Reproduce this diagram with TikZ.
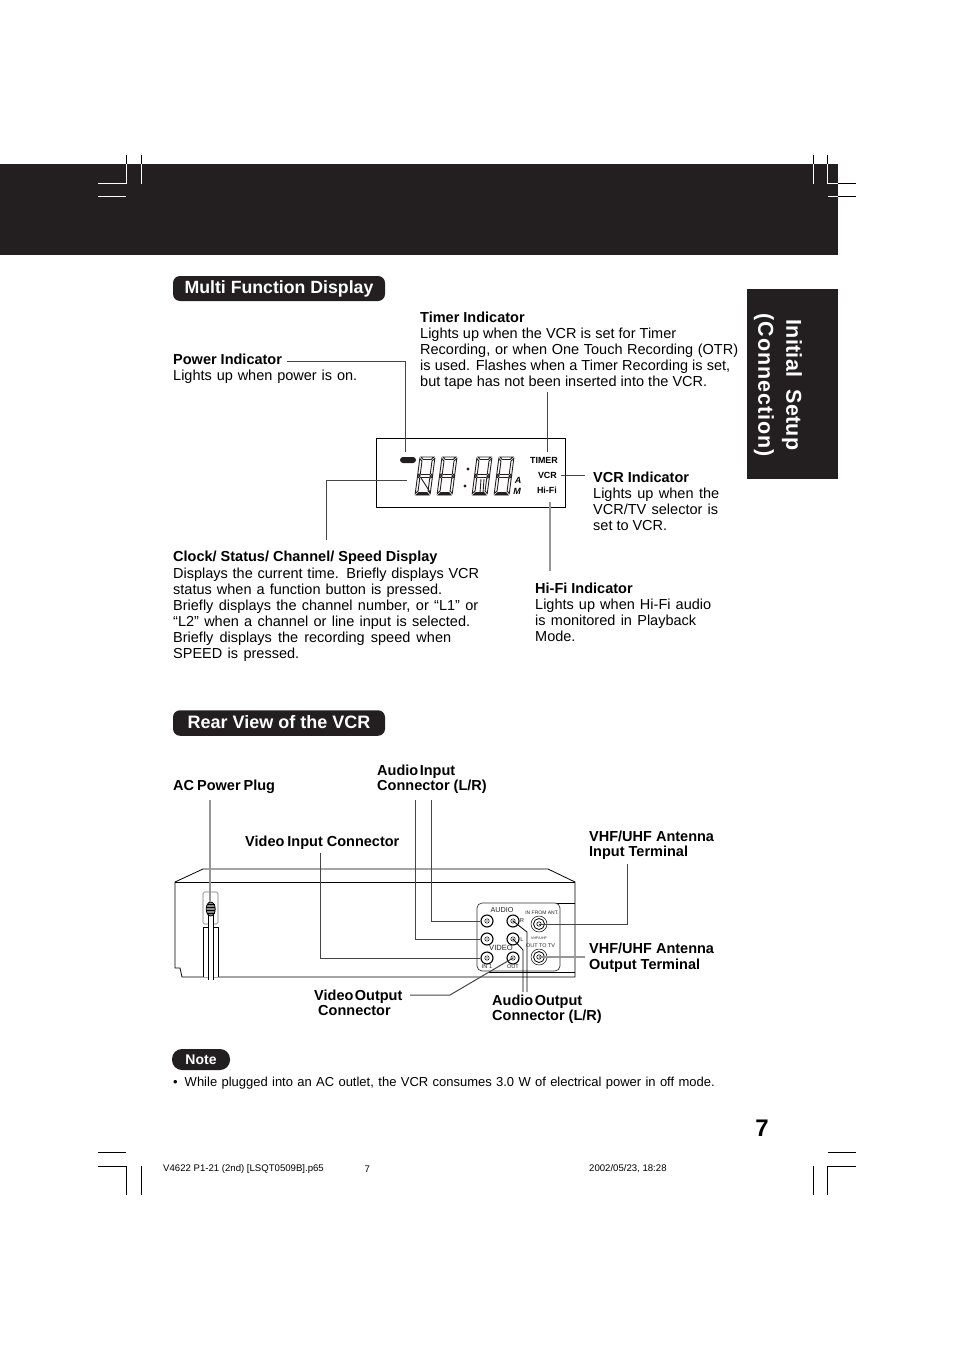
\documentclass[tikz,border=0pt]{standalone}
\usepackage{fontspec}
\setmainfont{Liberation Sans}
\usetikzlibrary{positioning,calc,shapes.geometric}
\definecolor{inkC}{RGB}{35,31,32}
\definecolor{leadC}{RGB}{70,70,70}
\definecolor{paleC}{RGB}{150,150,150}

% line stretched to the width it has on the page
\newcommand{\fitline}[2]{\makebox[#1pt][s]{#2}}

% one slanted LCD digit, local box 15 x 38
\newcommand{\lcddigit}[1]{%
  \begin{scope}[shift={(#1,457)},xslant=0.13,seg/.style={draw=inkC,line width=0.9pt,fill=white}]
    \draw[seg] (1,0)--(14,0)--(11.5,2.5)--(3.5,2.5)--cycle;
    \draw[seg] (0,1.5)--(2.5,4)--(2.5,16.5)--(0,18.5)--cycle;
    \draw[seg] (15,1.5)--(15,18.5)--(12.5,16.5)--(12.5,4)--cycle;
    \draw[seg] (1,19)--(3.5,17.5)--(11.5,17.5)--(14,19)--(11.5,20.5)--(3.5,20.5)--cycle;
    \draw[seg] (0,19.5)--(2.5,21.5)--(2.5,34)--(0,36.5)--cycle;
    \draw[seg] (15,19.5)--(15,36.5)--(12.5,34)--(12.5,21.5)--cycle;
    \draw[seg,fill=inkC] (1,38)--(14,38)--(11.5,35.5)--(3.5,35.5)--cycle;
  \end{scope}}

\begin{document}
\begin{tikzpicture}[
  x=1pt,y=-1pt,
  font=\fontsize{14.5}{16}\selectfont,
  txt/.style={anchor=north west, inner sep=0pt, align=left},
  rtxt/.style={txt, font=\fontsize{14.5}{15}\selectfont\bfseries},
  pill/.style={fill=inkC, text=white, rounded corners=7pt, inner sep=0pt, font=\fontsize{17.7}{20}\selectfont\bfseries},
  lcdlab/.style={anchor=east, inner sep=0pt, font=\fontsize{8.9}{10}\selectfont\bfseries},
  lead/.style={draw=leadC, line width=1pt},
  leadg/.style={draw=paleC, line width=1.1pt},
  wire/.style={draw=black, line width=0.8pt},
  jack/.style={circle, draw=black, line width=1.1pt, minimum size=12pt, inner sep=0pt},
  antjack/.style={circle, draw=black, line width=0.5pt, minimum size=16pt, inner sep=0pt},
  tiny/.style={inner sep=0pt, text=black!85},
  foot/.style={anchor=west, inner sep=0pt, font=\fontsize{9.6}{11}\selectfont},
]
\useasboundingbox (0,0) rectangle (954,1351);

% ============ header band and tab ============
\fill[inkC] (0,164) rectangle (838,255);
\fill[inkC] (747,289) rectangle (838,479);
\node[rotate=-90, inner sep=0pt, align=center, text=white, font=\fontsize{21.5}{28}\selectfont\bfseries] (tabtxt) at (778,385)
  {\addfontfeature{LetterSpace=1}Initial\ \ Setup\\\addfontfeature{LetterSpace=4.2}(Connection)};

% ============ crop marks ============
% verticals: black above the band, white on it
\foreach \x in {126,141,813,827}{
  \draw[black,line width=1pt] (\x,155) -- (\x,164);
  \draw[white,line width=1pt] (\x,164) -- (\x,184);
  \draw[black,line width=1pt] (\x,1166) -- (\x,1195);
}
\foreach \y in {184,197}{
  \draw[white,line width=1pt] (98,\y) -- (126,\y);
  \draw[white,line width=1pt] (828,\y) -- (838,\y);
  \draw[black,line width=1pt] (838,\y) -- (856,\y);
}
\foreach \y in {1152,1166}{
  \draw[black,line width=1pt] (98,\y) -- (126,\y);
  \draw[black,line width=1pt] (828,\y) -- (856,\y);
}

% ============ section pills ============
\node[pill, minimum width=212pt, minimum height=25pt] (mfdpill) at (279,288.5) {\raisebox{-2pt}{Multi Function Display}};
\node[pill, minimum width=212pt, minimum height=25.5pt, font=\fontsize{18}{20}\selectfont\bfseries] (rearpill) at (279,723) {\raisebox{2pt}{Rear View of the VCR}};
\node[pill, rounded corners=10pt, minimum width=58pt, minimum height=21pt, font=\fontsize{14}{16}\selectfont\bfseries] (notepill) at (201,1059.5) {Note};

% ============ display ============
\node[draw=black, line width=0.9pt, minimum width=189pt, minimum height=69pt, inner sep=0pt] (lcd) at (470.5,472.5) {};
\node[fill=inkC, rounded corners=3pt, minimum width=16pt, minimum height=6pt, inner sep=0pt] (pwrled) at (408,460) {};
\foreach \x in {420,442,477,499}{\lcddigit{\x}}
\fill[inkC] (468,469) circle (1.6) (465,486) circle (1.6);
% odd marks inside digits one and three
\draw[inkC,line width=0.9pt] (421,478) -- (430,492) (481,479) -- (480,493) (484,479) -- (483,493);
\node[inner sep=0pt, font=\fontsize{9}{10}\selectfont\bfseries\itshape] (lcdA) at (518,480.5) {A};
\node[inner sep=0pt, font=\fontsize{9}{10}\selectfont\bfseries\itshape] (lcdM) at (517,491.5) {M};
\node[lcdlab] (timer) at (558,460) {TIMER};
\node[lcdlab] (vcr) at (557,475) {VCR};
\node[lcdlab] (hifi) at (557,490) {Hi-Fi};

% ============ display callouts ============
\node[txt] (pwrtxt) at (173,354) {\textbf{Power Indicator}\\\fitline{184}{Lights up when power is on.}};
\node[txt] (tmrtxt) at (420,312) {\textbf{Timer Indicator}\\\fitline{256}{Lights up when the VCR is set for Timer}\\\fitline{318}{Recording, or when One Touch Recording (OTR)}\\\fitline{310}{is used. Flashes when a Timer Recording is set,}\\\fitline{287}{but tape has not been inserted into the VCR.}};
\node[txt] (vcrtxt) at (593,472) {\textbf{VCR Indicator}\\\fitline{126}{Lights up when the}\\\fitline{125}{VCR/TV selector is}\\\fitline{74}{set to VCR.}};
\node[txt] (clktxt) at (173,551) {\textbf{Clock/ Status/ Channel/ Speed Display}\\[1pt]\fitline{306}{Displays the current time. Briefly displays VCR}\\\fitline{269}{status when a function button is pressed.}\\\fitline{305}{Briefly displays the channel number, or “L1” or}\\\fitline{297}{“L2” when a channel or line input is selected.}\\\fitline{278}{Briefly displays the recording speed when}\\\fitline{126}{SPEED is pressed.}};
\node[txt] (hfitxt) at (535,583) {\textbf{Hi-Fi Indicator}\\\fitline{176}{Lights up when Hi-Fi audio}\\\fitline{161}{is monitored in Playback}\\Mode.};

\coordinate (pwrstart) at (287,361);
\coordinate (pwrend) at (405,452);
\coordinate (tmrstart) at (547,392);
\coordinate (tmrend) at (547,452);
\coordinate (clkstart) at (326,540);
\coordinate (clkend) at (407,480);
\coordinate (vcrstart) at (561,475);
\coordinate (vcrend) at (585,475);
\coordinate (hfistart) at (550,502);
\coordinate (hfiend) at (550,571);
\draw[lead] (pwrstart) -| (pwrend);
\draw[lead] (tmrstart) -- (tmrend);
\draw[lead] (clkstart) |- (clkend);
\draw[lead] (vcrstart) -- (vcrend);
\draw[leadg] (hfistart) -- (hfiend);

% ============ VCR body ============
\draw[wire] (175,882) -- (203,869) -- (548,869) -- (575,882) -- (575,977) -- (182,977)
  -- (180,968) -- (175,968) -- cycle;
\draw[wire] (175,882) -- (575,882);
\draw[wire] (488,903) -- (575,903);
\draw[wire] (488,972) -- (575,972);
\node[draw=black!80, fill=white, line width=0.7pt, rounded corners=5pt, minimum width=83pt, minimum height=68pt, inner sep=0pt] (panel) at (518.5,937) {};

% plug and cord
\draw[draw=black!55, line width=0.6pt, rounded corners=1.5pt] (203,892) rectangle (218,924);
\draw[wire, fill=white] (203,977) -- (203,927) -- (218,927) -- (218,977);
\fill[white] (208.5,916) rectangle (213.5,980);
\draw[wire] (208.5,914) -- (208.5,980) (213.5,914) -- (213.5,980);
\node[ellipse, draw=black, fill=black!45, line width=0.8pt, minimum width=9pt, minimum height=14pt, inner sep=0pt] (plug) at (210.7,909) {};
\foreach \y in {904,907,910,913}{\draw[black,line width=0.6pt] (206.5,\y) -- (215,\y);}

% jacks
\foreach \n/\x/\y in {jr/513/921,jl/513/939,ja/487/921,jb/487/939,jc/487/958,jd/513/958}{
  \node[jack] (\n) at (\x,\y) {};
  \draw[black,line width=0.5pt] (\x,\y) circle (2.2);
  \fill[black] (\x,\y) circle (0.7);
}
\foreach \n/\y in {antin/924,antout/957}{
  \node[antjack] (\n) at (539,\y) {};
  \draw[black,line width=0.8pt] (539,\y) circle (5.5);
  \draw[black,line width=0.6pt] (539,\y) circle (2.2);
}
\node[tiny, font=\fontsize{7.2}{8}\selectfont] (audiolab) at (502,910.5) {AUDIO};
\node[tiny, font=\fontsize{7.6}{8}\selectfont] (videolab) at (501,948) {VIDEO};
\node[tiny, font=\fontsize{5.8}{7}\selectfont] (rlab) at (522,920) {R};
\node[tiny, font=\fontsize{5.8}{7}\selectfont] (llab) at (522,939) {L};
\node[tiny, font=\fontsize{5.6}{7}\selectfont] (in1lab) at (487,966.5) {IN 1};
\node[tiny, font=\fontsize{5.6}{7}\selectfont] (outlab) at (513,966.5) {OUT};
\node[tiny, font=\fontsize{5}{7}\selectfont] (antinlab) at (542,913) {IN FROM ANT.};
\node[tiny, font=\fontsize{3.6}{4}\selectfont] (uhflab) at (539,938) {VHF/UHF};
\node[tiny, font=\fontsize{5.4}{7}\selectfont] (antoutlab) at (540.5,946) {OUT TO TV};

% ============ rear view callouts ============
\node[rtxt] (acttl) at (173,780) {AC\hspace{3pt}Power\hspace{3pt}Plug};
\node[rtxt] (aintxt) at (377,765) {Audio\hspace{1.5pt}Input\\Connector (L/R)};
\node[rtxt] (vintxt) at (245,836) {Video\hspace{3pt}Input Connector};
\node[rtxt] (ainttxt) at (589,831) {VHF/UHF Antenna\\Input Terminal};
\node[rtxt] (aouttxt) at (589,943) {VHF/UHF Antenna\\[0.6pt]Output Terminal};
\node[rtxt] (vouttxt) at (314,990) {Video\hspace{1.5pt}Output\\\hspace*{4pt}Connector};
\node[rtxt] (aoutxt) at (492,995) {Audio\hspace{1.5pt}Output\\Connector (L/R)};

\coordinate (acstart) at (210,800);
\coordinate (arstart) at (431,800);
\coordinate (alstart) at (415,800);
\coordinate (vistart) at (320,853);
\coordinate (aistart) at (627,864);
\coordinate (aostart) at (585,957);
\coordinate (vostart) at (410,995);
\coordinate (vobend) at (450,995);
\coordinate (auleft) at (523,992);
\coordinate (auright) at (527,992);
\draw[leadg] (acstart) -- (plug.north -| acstart);
\draw[lead] (arstart) |- (ja.west);
\draw[lead] (alstart) |- (jb.west);
\draw[lead] (vistart) |- (jc.west);
\draw[lead] (aistart) |- (antin.center);
\draw[leadg] (aostart) -- (antout.center);
\draw[lead] (vostart) -- (vobend) -- (jd.center);
\draw[wire] (jl.center) -- (523,950) -- (auleft);
\draw[wire] (jr.center) -- (527,932) -- (auright);

% ============ note and footer ============
\node[anchor=west, inner sep=0pt, font=\fontsize{13}{14}\selectfont] (notetxt) at (173,1083)
  {•\hspace{7pt}\fitline{530}{While plugged into an AC outlet, the VCR consumes 3.0 W of electrical power in off mode.}};
\node[inner sep=0pt, font=\fontsize{24}{26}\selectfont\bfseries] (pageno) at (762,1128) {7};
\node[foot] (footfile) at (163,1169) {V4622 P1-21 (2nd) [LSQT0509B].p65};
\node[foot] (footpage) at (364.5,1169) {7};
\node[foot] (footdate) at (589,1169) {2002/05/23, 18:28};
\end{tikzpicture}
\end{document}
